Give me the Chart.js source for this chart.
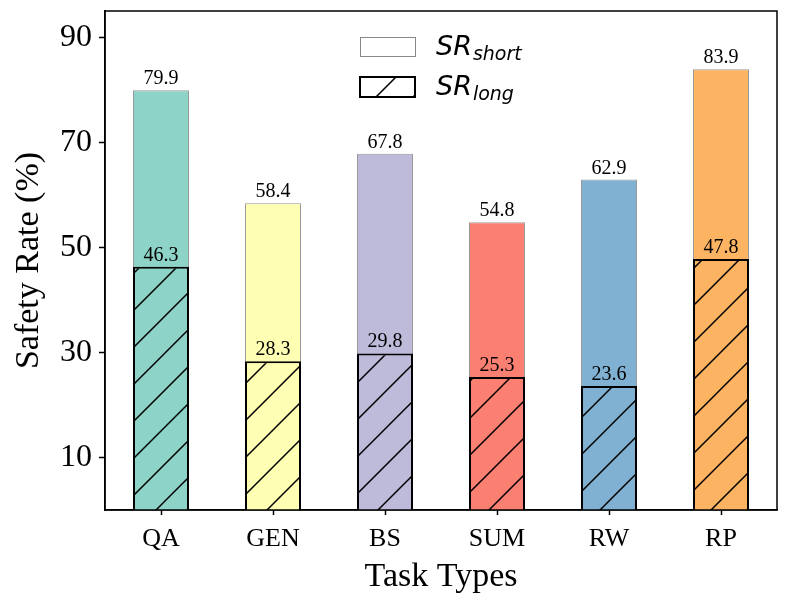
<!DOCTYPE html>
<html>
<head>
<meta charset="utf-8">
<script src="https://cdn.jsdelivr.net/npm/chart.js@4.4.0/dist/chart.umd.min.js"></script>
<style>
body{margin:0;background:#fff;}
#wrap{width:788px;height:606px;}
</style>
</head>
<body>
<div id="wrap"><canvas id="myChart" width="788" height="606"></canvas></div>
<script>
const taskTypes = ["QA", "GEN", "BS", "SUM", "RW", "RP"];
const srShort = [79.9, 58.4, 67.8, 54.8, 62.9, 83.9];
const srLong = [46.3, 28.3, 29.8, 25.3, 23.6, 47.8];
const yTicks = [10, 30, 50, 70, 90];
const barColors = ["#8dd3c7", "#ffffb3", "#bebada", "#fb8072", "#80b1d3", "#fdb462"];

const serif = "'Liberation Serif', 'Times New Roman', serif";

// hatch "/" on top of a fill colour
function makeHatch(color) {
    var s = 37;
    var c = document.createElement("canvas");
    c.width = s; c.height = s;
    var g = c.getContext("2d");
    g.fillStyle = color;
    g.fillRect(0, 0, s, s);
    g.strokeStyle = "#000";
    g.lineWidth = 1.5;
    g.beginPath();
    g.moveTo(-2, s + 2); g.lineTo(s + 2, -2);
    g.moveTo(-2, 2); g.lineTo(2, -2);
    g.moveTo(s - 2, s + 2); g.lineTo(s + 2, s - 2);
    g.stroke();
    return g.createPattern(c, "repeat");
}
var hatchFills = barColors.map(makeHatch);

const valueLabels = {
    id: "valueLabels",
    afterDatasetsDraw(chart) {
        var ctx = chart.ctx;
        ctx.save();
        ctx.font = "20px " + serif;
        ctx.fillStyle = "#000";
        ctx.textAlign = "center";
        ctx.textBaseline = "alphabetic";
        chart.data.datasets.forEach(function (ds, i) {
            chart.getDatasetMeta(i).data.forEach(function (bar, j) {
                ctx.fillText(ds.data[j].toFixed(1), bar.x, bar.y - 6);
            });
        });
        ctx.restore();
    }
};

const frameAndLegend = {
    id: "frameAndLegend",
    afterDraw(chart) {
        var ctx = chart.ctx;
        var a = chart.chartArea;
        ctx.save();
        ctx.strokeStyle = "#000";
        ctx.lineWidth = 1.5;
        ctx.strokeRect(a.left, a.top, a.right - a.left, a.bottom - a.top);

        // legend
        var lx = 360, bw = 55;
        ctx.fillStyle = "#fff";
        ctx.fillRect(lx, 37, bw, 19);
        ctx.strokeStyle = "#888";
        ctx.lineWidth = 1;
        ctx.strokeRect(lx + 0.5, 37.5, bw, 19);

        ctx.save();
        ctx.beginPath();
        ctx.rect(lx, 77, bw, 20);
        ctx.clip();
        ctx.fillStyle = "#fff";
        ctx.fillRect(lx, 77, bw, 20);
        ctx.strokeStyle = "#000";
        ctx.lineWidth = 1.5;
        ctx.beginPath();
        ctx.moveTo(lx + 14, 99); ctx.lineTo(lx + 37, 76);
        ctx.moveTo(lx + 51, 99); ctx.lineTo(lx + 60, 90);
        ctx.stroke();
        ctx.restore();
        ctx.strokeStyle = "#000";
        ctx.lineWidth = 2;
        ctx.strokeRect(lx, 77, bw, 20);

        ctx.fillStyle = "#000";
        ctx.textAlign = "left";
        ctx.textBaseline = "alphabetic";
        var rows = [["short", 55], ["long", 95]];
        rows.forEach(function (r) {
            ctx.font = "italic 27px 'DejaVu Sans'";
            ctx.fillText("SR", 436, r[1]);
            var w = ctx.measureText("SR").width;
            ctx.font = "italic 19px 'DejaVu Sans'";
            ctx.fillText(r[0], 436 + w + 1, r[1] + 5);
        });
        ctx.restore();
    }
};

new Chart("myChart", {
    type: "bar",
    data: {
        labels: taskTypes,
        datasets: [{
            label: "SR_long",
            data: srLong,
            backgroundColor: hatchFills,
            borderColor: "#000",
            borderWidth: 2,
            order: 1,
            grouped: false,
            categoryPercentage: 1,
            barPercentage: 0.5
        }, {
            label: "SR_short",
            data: srShort,
            backgroundColor: barColors,
            borderColor: "#999",
            borderWidth: 1,
            order: 2,
            grouped: false,
            categoryPercentage: 1,
            barPercentage: 0.5
        }]
    },
    options: {
        responsive: false,
        animation: false,
        layout: { padding: { top: 11, right: 11, left: 0, bottom: 0 } },
        plugins: {
            legend: { display: false },
            tooltip: { enabled: false }
        },
        scales: {
            x: {
                grid: { offset: false, drawOnChartArea: false, drawTicks: true, tickLength: 5, tickColor: "#000", tickWidth: 1.5 },
                border: { display: true, color: "#000", width: 1.5 },
                ticks: { color: "#000", padding: 9, font: { family: serif, size: 26 } },
                title: { display: true, text: "Task Types", color: "#000", padding: { top: 0, bottom: 9 }, font: { family: serif, size: 34 } },
                afterFit: function (scale) {
                    scale.height = 96;
                    scale.paddingLeft = 0;
                    scale.paddingRight = 0;
                }
            },
            y: {
                min: 0,
                max: 95,
                afterBuildTicks: function (scale) {
                    scale.ticks = yTicks.map(function (v) { return { value: v }; });
                },
                grid: { drawOnChartArea: false, drawTicks: true, tickLength: 6, tickColor: "#000", tickWidth: 1.5 },
                border: { display: true, color: "#000", width: 1.5 },
                ticks: { color: "#000", padding: 7, font: { family: serif, size: 32 } },
                title: { display: true, text: "Safety Rate (%)", color: "#000", padding: { top: 9, bottom: 0 }, font: { family: serif, size: 34 } },
                afterFit: function (scale) {
                    scale.width = 105;
                    scale.paddingTop = 0;
                    scale.paddingBottom = 0;
                }
            }
        }
    },
    plugins: [valueLabels, frameAndLegend]
});
</script>
</body>
</html>
